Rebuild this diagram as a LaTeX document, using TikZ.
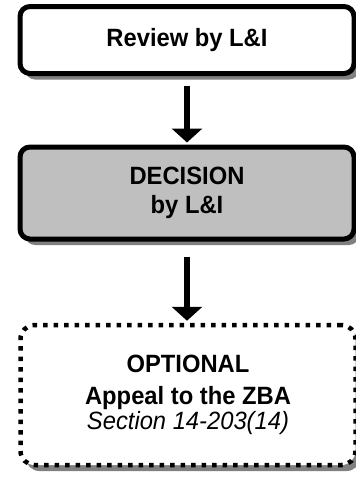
\documentclass[tikz,border=0pt]{standalone}
\usepackage{fontspec}
\setmainfont{Liberation Sans}[FakeStretch=0.95]
\usetikzlibrary{arrows.meta,shadows}
\begin{document}
\begin{tikzpicture}[x=1pt,y=1pt,
box0/.style={rectangle,line width=5pt,draw=black,fill=white,minimum width=334pt,minimum height=67pt,align=center,rounded corners=10pt,font=\fontsize{25}{29}\selectfont\bfseries,drop shadow={shadow xshift=5pt,shadow yshift=-6pt,fill=black!50,opacity=1}},
box1/.style={box0,fill=black!25,minimum height=92pt},
box2/.style={box0,line width=4.5pt,dash pattern=on 4.5pt off 6pt,rounded corners=14pt,minimum width=335pt,minimum height=140pt},
flow/.style={line width=6pt,-{Triangle[width=30pt,length=14pt]}},
]
\useasboundingbox (0,0) rectangle (356,-477);

% approval steps
\node[box0] (review) at (187,-40) {Review by L\&I};
\node[box1] (decision) at (187,-193) {DECISION\\by L\&I};
\node[box2] (appeal) at (188,-395) {OPTIONAL\\[3pt]Appeal to the ZBA\\[-4pt]{\mdseries\itshape Section 14-203(14)}};

\draw[flow,shorten <=9.5pt,shorten >=2pt] (review) -- (decision);
\draw[flow,shorten <=15pt,shorten >=2pt] (decision.south) -- (decision.south |- appeal.north);

\end{tikzpicture}
\end{document}
